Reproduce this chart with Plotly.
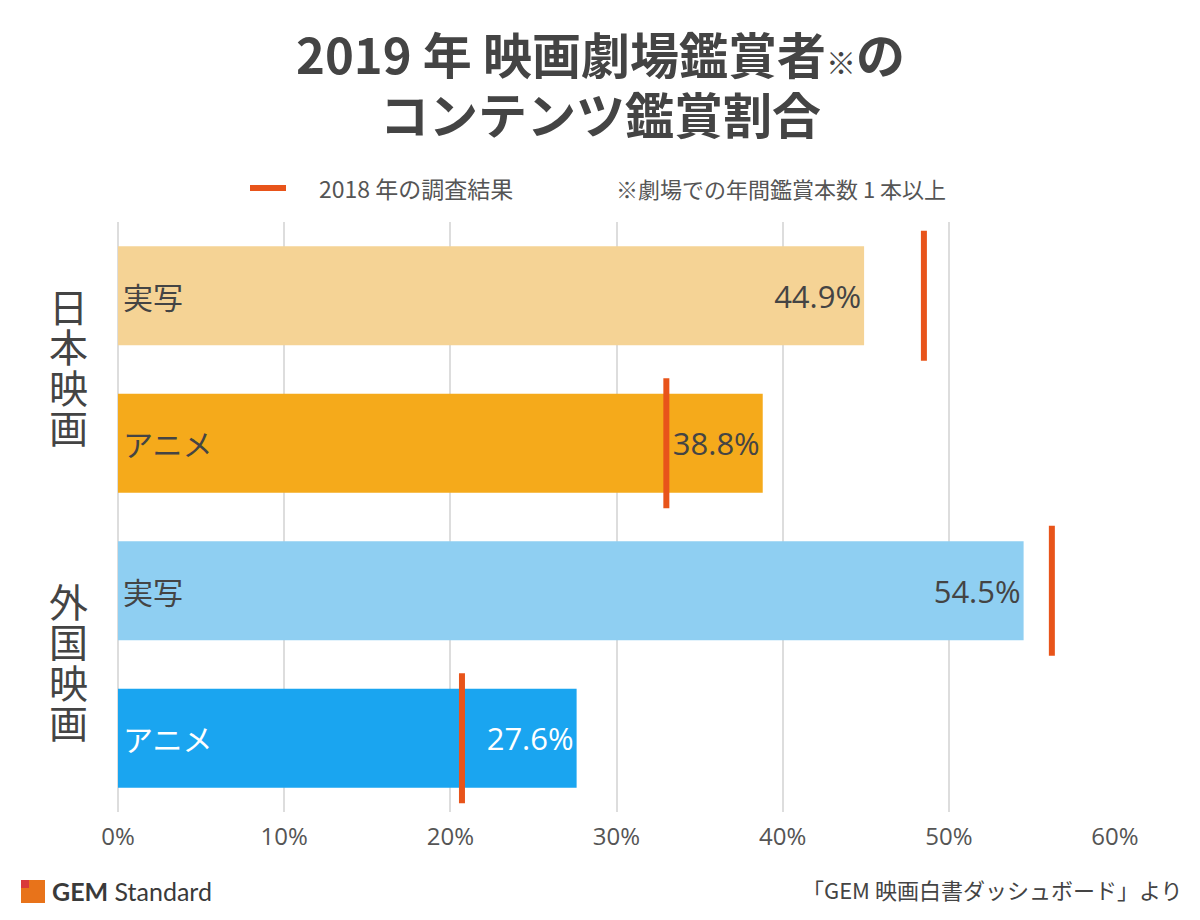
import plotly.graph_objects as go

# ---- data ----
groups = ["日本映画", "外国映画"]
categories = ["実写", "アニメ", "実写", "アニメ"]
values_2019 = [44.9, 38.8, 54.5, 27.6]
values_2018 = [48.5, 33.0, 56.2, 20.7]
x_ticks = [0, 10, 20, 30, 40, 50, 60]
x_tick_labels = ["0%", "10%", "20%", "30%", "40%", "50%", "60%"]
legend_label = "2018 年の調査結果"
note_text = "※劇場での年間鑑賞本数 1 本以上"
source_text = "「GEM 映画白書ダッシュボード」より"
title_lines = ["<b>2019 年 映画劇場鑑賞者<span style='font-size:30px'>※</span>の</b>", "<b>コンテンツ鑑賞割合</b>"]

bar_colors = ["#F5D395", "#F5AA1B", "#8FCFF2", "#1AA5F0"]
text_colors = ["#444444", "#444444", "#444444", "#FFFFFF"]
mark_color = "#E8541A"

# page body has an 8px margin; figure sized to fit the window exactly
OFF = 8
W, H = 1200 - OFF, 920 - OFF
# plot area in screen pixels: x 118..1115, y 222..812
L, T = 118 - OFF, 222 - OFF
R, B = 1200 - 1115, 920 - 812
PW, PH = W - L - R, H - T - B

def px2paper(px, py):
    # screen pixel -> paper coordinates
    return (px - OFF - L) / PW, (H + OFF - B - py) / PH

FONT = "Open Sans, Noto Sans CJK JP, sans-serif"
CJK = "Noto Sans CJK JP, sans-serif"

y_idx = list(range(len(categories)))

fig = go.Figure()

fig.add_trace(go.Bar(
    x=values_2019, y=y_idx, orientation="h",
    marker=dict(color=bar_colors, line=dict(width=0)),
    width=0.67,
    text=[f"{v:.1f}%" for v in values_2019],
    textposition="inside", insidetextanchor="end",
    textfont=dict(size=31, color=text_colors, family=FONT),
    constraintext="none",
    showlegend=False, hoverinfo="skip",
))

fig.add_trace(go.Scatter(
    x=values_2018, y=y_idx, mode="markers",
    marker=dict(symbol="line-ns", size=93, color=mark_color,
                line=dict(width=6, color=mark_color)),
    showlegend=False, hoverinfo="skip", cliponaxis=False,
))

annotations = []
# category labels inside bars
for i, (c, col) in enumerate(zip(categories, text_colors)):
    annotations.append(dict(x=0, y=i, xref="x", yref="y", text=c, showarrow=False,
                            xanchor="left", xshift=3,
                            font=dict(size=30, color=col, family=CJK)))

# group labels, vertical
for g_i, g in enumerate(groups):
    center = 2 * g_i + 0.5
    n = len(g)
    for k, ch in enumerate(g):
        annotations.append(dict(x=-0.05, y=center, xref="paper", yref="y", text=ch,
                                showarrow=False, xanchor="center", yanchor="middle",
                                yshift=(n - 1) / 2 * 40.5 - k * 40.5 + 4,
                                font=dict(size=39, color="#444444", family=CJK)))

# title
for k, (line, py) in enumerate(zip(title_lines, [52, 113])):
    tx, ty = px2paper(600, py)
    annotations.append(dict(x=tx, y=ty, xref="paper", yref="paper", text=line,
                            showarrow=False, xanchor="center", yanchor="middle",
                            font=dict(size=49, color="#444444", family=CJK)))

# legend text
lx, ly = px2paper(317, 188)
annotations.append(dict(x=lx, y=ly, xref="paper", yref="paper", text=legend_label,
                        showarrow=False, xanchor="left", yanchor="middle",
                        font=dict(size=23, color="#555555", family=CJK)))
# note
nx, ny = px2paper(614, 188)
annotations.append(dict(x=nx, y=ny, xref="paper", yref="paper", text=note_text,
                        showarrow=False, xanchor="left", yanchor="middle",
                        font=dict(size=22, color="#555555", family=CJK)))

# footer source
sx, sy = px2paper(1184, 889)
annotations.append(dict(x=sx, y=sy, xref="paper", yref="paper", text=source_text,
                        showarrow=False, xanchor="right", yanchor="middle",
                        font=dict(size=22, color="#444444", family=CJK)))

# logo text
gx, gy = px2paper(50, 891)
annotations.append(dict(x=gx, y=gy, xref="paper", yref="paper",
                        text="<b>GEM</b> Standard",
                        showarrow=False, xanchor="left", yanchor="middle",
                        font=dict(size=25, color="#3a3a3a", family="Lato, Noto Sans, sans-serif")))

shapes = []
# legend key
k0x, k0y = px2paper(250, 188)
k1x, _ = px2paper(286, 188)
shapes.append(dict(type="line", xref="paper", yref="paper", x0=k0x, y0=k0y, x1=k1x, y1=k0y,
                   line=dict(color=mark_color, width=6)))
# logo squares
x0, y0 = px2paper(21, 903)
x1, y1 = px2paper(45, 880)
shapes.append(dict(type="rect", xref="paper", yref="paper", x0=x0, y0=y0, x1=x1, y1=y1,
                   fillcolor="#E8731A", line=dict(width=0), layer="above"))
x0, y0 = px2paper(21, 888)
x1, y1 = px2paper(29, 880)
shapes.append(dict(type="rect", xref="paper", yref="paper", x0=x0, y0=y0, x1=x1, y1=y1,
                   fillcolor="#D93A3A", line=dict(width=0), layer="above"))

fig.update_layout(
    width=W, height=H,
    margin=dict(l=L, r=R, t=T, b=B, pad=0, autoexpand=False),
    paper_bgcolor="white", plot_bgcolor="white",
    font=dict(family=FONT, color="#444444"),
    showlegend=False,
    xaxis=dict(range=[0, 60], tickvals=x_ticks, ticktext=x_tick_labels,
               showgrid=True, gridcolor="#DDDDDD", gridwidth=2,
               zeroline=True, zerolinecolor="#DDDDDD", zerolinewidth=2,
               showline=False, ticks="", tickfont=dict(size=24, color="#555555", family=FONT),
               ticklabelstandoff=8, fixedrange=True),
    yaxis=dict(range=[len(categories) - 0.5, -0.5], showticklabels=False, showgrid=False,
               zeroline=False, showline=False, fixedrange=True),
    annotations=annotations,
    shapes=shapes,
)

fig.write_html("out.html")
